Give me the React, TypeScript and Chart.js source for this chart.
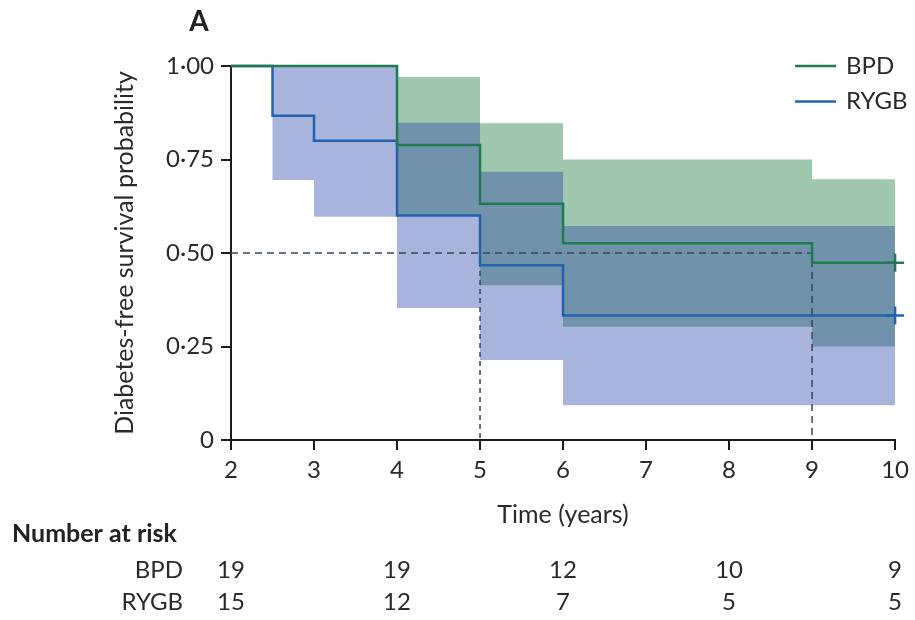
import React, { useEffect, useRef } from "react";
import { Chart, registerables } from "chart.js";

Chart.register(...registerables);

// ---- data ----
const xTicks = [2, 3, 4, 5, 6, 7, 8, 9, 10];
const yTicks = [0, 0.25, 0.5, 0.75, 1];
const yTickLabels = ["0", "0·25", "0·50", "0·75", "1·00"];

const bpdTimes = [2, 4, 5, 6, 9, 10];
const bpdSurv = [1, 0.789, 0.632, 0.526, 0.474, 0.474];
const bpdUpper = [1, 0.971, 0.847, 0.75, 0.697, 0.697];
const bpdLower = [1, 0.6, 0.414, 0.303, 0.25, 0.25];

const rygbTimes = [2, 2.5, 3, 4, 5, 6, 10];
const rygbSurv = [1, 0.867, 0.8, 0.6, 0.467, 0.333, 0.333];
const rygbUpper = [1, 1, 1, 0.848, 0.717, 0.572, 0.572];
const rygbLower = [1, 0.695, 0.597, 0.353, 0.214, 0.093, 0.093];

const medianLevel = 0.5;
const medianRYGB = 5;
const medianBPD = 9;

const riskTimes = [2, 4, 6, 8, 10];
const riskBPD = [19, 19, 12, 10, 9];
const riskRYGB = [15, 12, 7, 5, 5];

const seriesNames = ["BPD", "RYGB"];

// ---- styles ----
const FONT = "Lato, 'Open Sans', sans-serif";
const GREEN = "#1f7a4f";
const BLUE = "#2461ae";
const GREEN_BAND = "#a0c8ae";
const BLUE_BAND = "rgba(43,72,167,0.41)";
const TEXT = "#2a2a2a";
const AXIS = "#1e1e1e";
const DASH = "#36475a";

const pts = (xs: number[], ys: number[]) => xs.map((x, i) => ({ x, y: ys[i] }));

const overlayPlugin = {
  id: "overlay",
  afterDraw(chart: any) {
    const { ctx, chartArea, scales } = chart;
    const xs = scales.x;
    ctx.save();
    // Panel letter
    ctx.fillStyle = "#222";
    ctx.font = `bold 28px ${FONT}`;
    ctx.textAlign = "center";
    ctx.textBaseline = "middle";
    ctx.fillText("A", chartArea.left - 32, chartArea.top - 44);

    // Legend
    const lines = [chart.data.datasets[0], chart.data.datasets[1]];
    lines.forEach((ds: any, i: number) => {
      const y = chartArea.top + i * 35.5;
      ctx.strokeStyle = ds.borderColor;
      ctx.lineWidth = 2.5;
      ctx.beginPath();
      ctx.moveTo(chartArea.right - 100, y);
      ctx.lineTo(chartArea.right - 59, y);
      ctx.stroke();
      ctx.fillStyle = TEXT;
      ctx.font = `24px ${FONT}`;
      ctx.textAlign = "left";
      ctx.textBaseline = "middle";
      ctx.fillText(ds.label, chartArea.right - 49, y);
    });

    // Number at risk table
    ctx.fillStyle = "#222";
    ctx.font = `bold 25px ${FONT}`;
    ctx.textAlign = "left";
    ctx.textBaseline = "middle";
    ctx.fillText("Number at risk", 12, 534);
    const rows = [riskBPD, riskRYGB];
    const rowY = [570, 602];
    rows.forEach((row, r) => {
      ctx.fillStyle = TEXT;
      ctx.font = `24px ${FONT}`;
      ctx.textAlign = "right";
      ctx.fillText(seriesNames[r], 183, rowY[r]);
      ctx.textAlign = "center";
      row.forEach((v, i) => {
        ctx.fillText(String(v), xs.getPixelForValue(riskTimes[i]), rowY[r]);
      });
    });
    ctx.restore();
  },
};

export default function App() {
  const ref = useRef<HTMLCanvasElement>(null);
  useEffect(() => {
    const lastRadius = (n: number) => (c: any) => (c.dataIndex === n - 1 ? 9 : 0);
    const chart = new Chart(ref.current as HTMLCanvasElement, {
      type: "line",
      data: {
        datasets: [
          {
            label: seriesNames[0],
            data: pts(bpdTimes, bpdSurv),
            borderColor: GREEN,
            borderWidth: 2.5,
            stepped: true,
            fill: false,
            pointStyle: "cross",
            pointRadius: lastRadius(bpdTimes.length),
            pointBorderColor: GREEN,
            pointBorderWidth: 2.5,
            clip: false,
            order: 0,
          },
          {
            label: seriesNames[1],
            data: pts(rygbTimes, rygbSurv),
            borderColor: BLUE,
            borderWidth: 2.5,
            stepped: true,
            fill: false,
            pointStyle: "cross",
            pointRadius: lastRadius(rygbTimes.length),
            pointBorderColor: BLUE,
            pointBorderWidth: 2.5,
            clip: false,
            order: 0,
          },
          {
            label: "RYGB upper",
            data: pts(rygbTimes, rygbUpper),
            borderWidth: 0,
            borderColor: "rgba(0,0,0,0)",
            backgroundColor: BLUE_BAND,
            stepped: true,
            pointRadius: 0,
            fill: 3,
            order: 1,
          },
          {
            label: "RYGB lower",
            data: pts(rygbTimes, rygbLower),
            borderWidth: 0,
            borderColor: "rgba(0,0,0,0)",
            stepped: true,
            pointRadius: 0,
            fill: false,
            order: 1,
          },
          {
            label: "BPD upper",
            data: pts(bpdTimes, bpdUpper),
            borderWidth: 0,
            borderColor: "rgba(0,0,0,0)",
            backgroundColor: GREEN_BAND,
            stepped: true,
            pointRadius: 0,
            fill: 5,
            order: 2,
          },
          {
            label: "BPD lower",
            data: pts(bpdTimes, bpdLower),
            borderWidth: 0,
            borderColor: "rgba(0,0,0,0)",
            stepped: true,
            pointRadius: 0,
            fill: false,
            order: 2,
          },
          {
            label: "median BPD",
            data: [
              { x: xTicks[0], y: medianLevel },
              { x: medianBPD, y: medianLevel },
              { x: medianBPD, y: 0 },
            ],
            borderColor: DASH,
            borderWidth: 1.5,
            borderDash: [7, 5],
            pointRadius: 0,
            fill: false,
            order: 0.5,
          },
          {
            label: "median RYGB",
            data: [
              { x: medianRYGB, y: medianLevel },
              { x: medianRYGB, y: 0 },
            ],
            borderColor: DASH,
            borderWidth: 1.5,
            borderDash: [5, 4],
            pointRadius: 0,
            fill: false,
            order: 0.5,
          },
        ] as any,
      },
      options: {
        responsive: false,
        animation: false,
        events: [],
        layout: { padding: { left: 0, top: 66, right: 18, bottom: 0 } },
        plugins: {
          legend: { display: false },
          tooltip: { enabled: false },
          title: { display: false },
        },
        scales: {
          x: {
            type: "linear",
            min: 2,
            max: 10,
            afterBuildTicks: (s: any) => {
              s.ticks = xTicks.map((v) => ({ value: v }));
            },
            afterFit: (s: any) => {
              s.height = 180;
            },
            ticks: {
              font: { family: FONT, size: 24 },
              color: TEXT,
              padding: 6,
              maxRotation: 0,
              autoSkip: false,
            },
            grid: {
              drawOnChartArea: false,
              drawTicks: true,
              tickLength: 10,
              color: AXIS,
              lineWidth: 2,
            },
            border: { display: true, color: AXIS, width: 2 },
            title: {
              display: true,
              text: "Time (years)",
              font: { family: FONT, size: 25 },
              color: TEXT,
              padding: { top: 0, bottom: 90 },
            },
          },
          y: {
            type: "linear",
            min: 0,
            max: 1,
            afterBuildTicks: (s: any) => {
              s.ticks = yTicks.map((v) => ({ value: v }));
            },
            afterFit: (s: any) => {
              s.width = 231;
            },
            ticks: {
              font: { family: FONT, size: 24 },
              color: TEXT,
              padding: 7,
              autoSkip: false,
              callback: (v: any) => {
                const i = yTicks.indexOf(Number(v));
                return i >= 0 ? yTickLabels[i] : "";
              },
            },
            grid: {
              drawOnChartArea: false,
              drawTicks: true,
              tickLength: 10,
              color: AXIS,
              lineWidth: 2,
            },
            border: { display: true, color: AXIS, width: 2 },
            title: {
              display: true,
              text: "Diabetes-free survival probability",
              font: { family: FONT, size: 25 },
              color: TEXT,
              padding: { top: 110, bottom: 0 },
            },
          },
        },
      } as any,
      plugins: [overlayPlugin],
    });
    return () => chart.destroy();
  }, []);

  return (
    <div style={{ position: "absolute", left: 0, top: 0, width: 915, height: 620, background: "#fff" }}>
      <canvas ref={ref} width={915} height={620} style={{ display: "block", width: 915, height: 620 }} />
    </div>
  );
}
